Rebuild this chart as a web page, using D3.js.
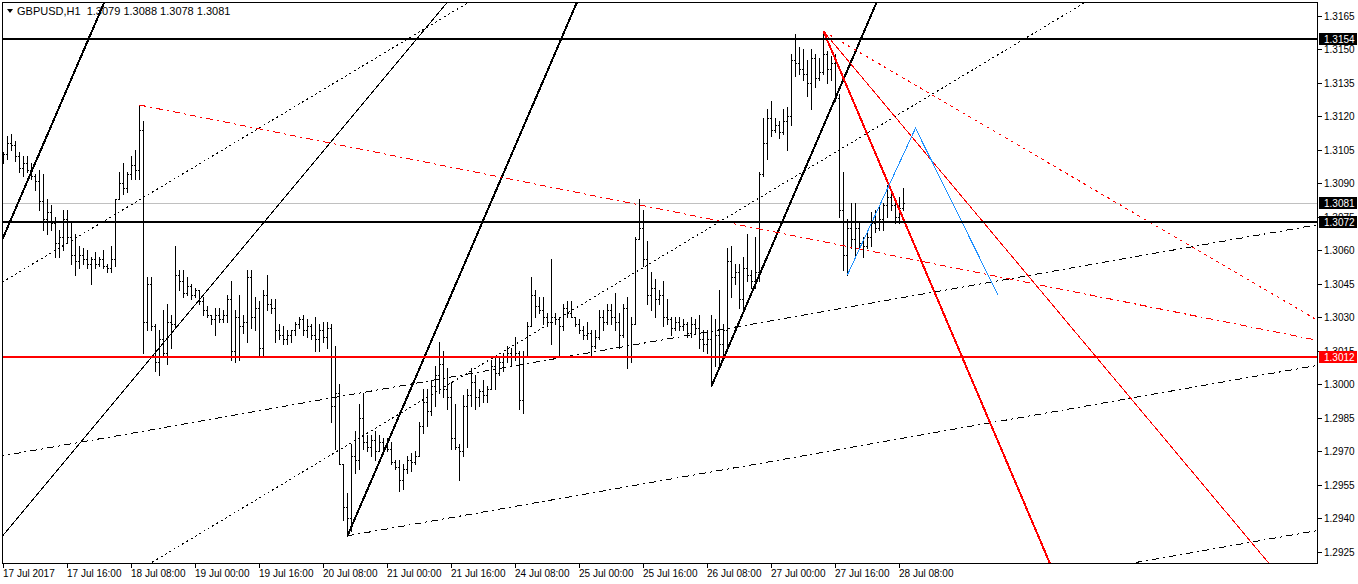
<!DOCTYPE html>
<html>
<head>
<meta charset="utf-8">
<script src="https://cdn.jsdelivr.net/npm/d3@7/dist/d3.min.js"></script>
<style>
  body { margin: 0; background: #fff; }
  svg { display: block; font-family: "Liberation Sans", Arial, sans-serif; font-size: 10px; }
</style>
</head>
<body>
<svg id="chart" width="1358" height="584"></svg>
<script>
var symbol = "GBPUSD,H1";

// hourly bars, 17 Jul 2017 00:00 .. 28 Jul 2017 09:00
var barOpen = [
  1.3101,1.3103,1.3108,1.3107,1.3102,1.3097,1.3099,1.3096,1.3093,1.3091,1.3082,1.3074,1.3077,1.3072,1.3063,1.3066,
  1.3074,1.3066,1.3058,1.3055,1.3058,1.3056,1.3054,1.3056,1.3054,1.3056,1.3053,1.3052,1.3056,1.3083,1.3090,1.3088,
  1.3094,1.3098,1.3096,1.3114,1.3028,1.3045,1.3026,1.3010,1.3020,1.3014,1.3028,1.3027,1.3049,1.3046,1.3041,1.3044,
  1.3040,1.3042,1.3037,1.3033,1.3031,1.3029,1.3031,1.3029,1.3031,1.3038,1.3015,1.3030,1.3026,1.3028,1.3048,1.3030,
  1.3034,1.3016,1.3040,1.3036,1.3034,1.3024,1.3022,1.3020,1.3022,1.3024,1.3027,1.3029,1.3024,1.3026,1.3022,1.3020,
  1.3024,1.3021,1.3025,1.2990,1.2996,1.2964,1.2945,1.2940,1.2968,1.2966,1.2985,1.2974,1.2972,1.2975,1.2970,1.2974,
  1.2972,1.2971,1.2965,1.2963,1.2957,1.2962,1.2966,1.2965,1.2968,1.2981,1.2992,1.2988,1.2999,1.3004,1.3009,1.2998,
  1.2994,1.2976,1.2972,1.2970,1.2990,1.2995,1.3001,1.2994,1.2997,1.2995,1.2998,1.3008,1.3005,1.3010,1.3012,1.3014,
  1.3012,1.3014,1.2993,1.3012,1.3026,1.3040,1.3035,1.3033,1.3030,1.3028,1.3030,1.3029,1.3026,1.3034,1.3032,1.3030,
  1.3027,1.3024,1.3022,1.3023,1.3017,1.3021,1.3030,1.3028,1.3033,1.3030,1.3028,1.3022,1.3034,1.3012,1.3027,1.3065,
  1.3070,1.3056,1.3040,1.3043,1.3038,1.3040,1.3030,1.3029,1.3025,1.3028,1.3026,1.3027,1.3023,1.3027,1.3025,1.3020,
  1.3018,1.3020,1.3012,1.3022,1.3018,1.3024,1.3055,1.3048,1.3050,1.3038,1.3052,1.3049,1.3046,1.3050,1.3094,1.3108,
  1.3119,1.3114,1.3116,1.3113,1.3118,1.3120,1.3145,1.3144,1.3141,1.3139,1.3135,1.3146,1.3137,1.3140,1.3148,1.3141,
  1.3144,1.3128,1.3078,1.3058,1.3070,1.3065,1.3070,1.3063,1.3062,1.3066,1.3072,1.3070,1.3074,1.3080,1.3084,1.3080,
  1.3075,1.3079
];
var barHigh = [
  1.3104,1.3111,1.3112,1.3109,1.3104,1.3102,1.3102,1.3099,1.3094,1.3096,1.3094,1.3083,1.3080,1.3075,1.3069,1.3078,
  1.3078,1.3072,1.3067,1.3062,1.3061,1.3060,1.3057,1.3059,1.3057,1.3060,1.3054,1.3062,1.3083,1.3095,1.3099,1.3095,
  1.3102,1.3105,1.3125,1.3118,1.3048,1.3048,1.3027,1.3024,1.3033,1.3036,1.3031,1.3062,1.3051,1.3051,1.3048,1.3045,
  1.3043,1.3042,1.3039,1.3035,1.3031,1.3034,1.3034,1.3033,1.3040,1.3046,1.3033,1.3040,1.3031,1.3051,1.3051,1.3039,
  1.3037,1.3042,1.3049,1.3038,1.3038,1.3027,1.3026,1.3024,1.3024,1.3028,1.3030,1.3031,1.3029,1.3027,1.3030,1.3027,
  1.3028,1.3028,1.3027,1.3017,1.3000,1.2964,1.2951,1.2973,1.2979,1.2991,1.2996,1.2977,1.2977,1.2979,1.2977,1.2976,
  1.2976,1.2974,1.2966,1.2966,1.2964,1.2968,1.2969,1.2970,1.2983,1.2998,1.2998,1.3002,1.3008,1.3019,1.3015,1.3007,
  1.3001,1.2991,1.2973,1.2995,1.2998,1.3007,1.3004,1.2998,1.3002,1.2999,1.3011,1.3012,1.3012,1.3014,1.3017,1.3016,
  1.3021,1.3015,1.3015,1.3028,1.3048,1.3042,1.3039,1.3039,1.3032,1.3056,1.3032,1.3030,1.3036,1.3037,1.3037,1.3030,
  1.3029,1.3026,1.3028,1.3024,1.3024,1.3033,1.3033,1.3036,1.3036,1.3041,1.3032,1.3036,1.3039,1.3030,1.3066,1.3083,
  1.3078,1.3064,1.3050,1.3047,1.3042,1.3046,1.3038,1.3030,1.3030,1.3030,1.3029,1.3028,1.3030,1.3029,1.3031,1.3024,
  1.3024,1.3031,1.3029,1.3042,1.3027,1.3061,1.3062,1.3054,1.3054,1.3057,1.3067,1.3051,1.3066,1.3095,1.3119,1.3123,
  1.3127,1.3119,1.3118,1.3123,1.3124,1.3148,1.3157,1.3151,1.3150,1.3145,1.3150,1.3148,1.3146,1.3158,1.3149,1.3147,
  1.3148,1.3130,1.3095,1.3074,1.3081,1.3081,1.3072,1.3066,1.3068,1.3077,1.3078,1.3080,1.3081,1.3089,1.3086,1.3082,
  1.3084,1.3088
];
var barLow = [
  1.3099,1.3101,1.3105,1.3100,1.3095,1.3093,1.3095,1.3092,1.3087,1.3078,1.3069,1.3067,1.3069,1.3057,1.3057,1.3060,
  1.3063,1.3054,1.3049,1.3052,1.3054,1.3052,1.3045,1.3052,1.3053,1.3052,1.3050,1.3050,1.3053,1.3083,1.3085,1.3086,
  1.3092,1.3092,1.3092,1.3014,1.3024,1.3024,1.3006,1.3004,1.3012,1.3009,1.3016,1.3025,1.3042,1.3039,1.3040,1.3038,
  1.3039,1.3036,1.3031,1.3030,1.3027,1.3022,1.3028,1.3028,1.3028,1.3011,1.3010,1.3011,1.3023,1.3019,1.3025,1.3024,
  1.3012,1.3012,1.3033,1.3032,1.3019,1.3020,1.3018,1.3018,1.3019,1.3022,1.3025,1.3022,1.3021,1.3020,1.3015,1.3015,
  1.3019,1.3016,1.2983,1.2971,1.2964,1.2939,1.2932,1.2934,1.2960,1.2962,1.2971,1.2970,1.2968,1.2966,1.2970,1.2969,
  1.2970,1.2964,1.2962,1.2952,1.2953,1.2960,1.2961,1.2964,1.2968,1.2978,1.2981,1.2986,1.2990,1.2996,1.2994,1.2989,
  1.2971,1.2971,1.2957,1.2968,1.2972,1.2990,1.2989,1.2990,1.2992,1.2992,1.2998,1.2998,1.3004,1.3006,1.3010,1.3008,
  1.3011,1.2989,1.2987,1.3012,1.3026,1.3030,1.3032,1.3027,1.3026,1.3018,1.3027,1.3012,1.3024,1.3030,1.3030,1.3026,
  1.3023,1.3020,1.3020,1.3013,1.3016,1.3020,1.3024,1.3027,1.3027,1.3024,1.3016,1.3021,1.3007,1.3010,1.3027,1.3065,
  1.3053,1.3036,1.3033,1.3030,1.3036,1.3026,1.3027,1.3022,1.3024,1.3024,1.3024,1.3021,1.3021,1.3023,1.3016,1.3015,
  1.3014,1.2999,1.3008,1.3009,1.3012,1.3016,1.3039,1.3045,1.3034,1.3033,1.3046,1.3043,1.3043,1.3046,1.3093,1.3101,
  1.3111,1.3113,1.3110,1.3112,1.3105,1.3116,1.3138,1.3139,1.3136,1.3129,1.3123,1.3133,1.3136,1.3139,1.3135,1.3136,
  1.3127,1.3075,1.3051,1.3049,1.3061,1.3058,1.3061,1.3057,1.3061,1.3062,1.3068,1.3069,1.3069,1.3075,1.3078,1.3072,
  1.3072,1.3078
];
var barClose = [
  1.3103,1.3108,1.3107,1.3102,1.3097,1.3099,1.3096,1.3093,1.3091,1.3082,1.3074,1.3077,1.3072,1.3063,1.3066,1.3074,
  1.3066,1.3058,1.3055,1.3058,1.3056,1.3054,1.3056,1.3054,1.3056,1.3053,1.3052,1.3056,1.3083,1.3090,1.3088,1.3094,
  1.3098,1.3096,1.3114,1.3028,1.3045,1.3026,1.3010,1.3020,1.3014,1.3028,1.3027,1.3049,1.3046,1.3041,1.3044,1.3040,
  1.3042,1.3037,1.3033,1.3031,1.3029,1.3031,1.3029,1.3031,1.3038,1.3015,1.3030,1.3026,1.3028,1.3048,1.3030,1.3034,
  1.3016,1.3040,1.3036,1.3034,1.3024,1.3022,1.3020,1.3022,1.3024,1.3027,1.3029,1.3024,1.3026,1.3022,1.3020,1.3024,
  1.3021,1.3025,1.2990,1.2996,1.2964,1.2945,1.2940,1.2968,1.2966,1.2985,1.2974,1.2972,1.2975,1.2970,1.2974,1.2972,
  1.2971,1.2965,1.2963,1.2957,1.2962,1.2966,1.2965,1.2968,1.2981,1.2992,1.2988,1.2999,1.3004,1.3009,1.2998,1.2994,
  1.2976,1.2972,1.2970,1.2990,1.2995,1.3001,1.2994,1.2997,1.2995,1.2998,1.3008,1.3005,1.3010,1.3012,1.3014,1.3012,
  1.3014,1.2993,1.3012,1.3026,1.3040,1.3035,1.3033,1.3030,1.3028,1.3030,1.3029,1.3026,1.3034,1.3032,1.3030,1.3027,
  1.3024,1.3022,1.3023,1.3017,1.3021,1.3030,1.3028,1.3033,1.3030,1.3028,1.3022,1.3034,1.3012,1.3027,1.3065,1.3070,
  1.3056,1.3040,1.3043,1.3038,1.3040,1.3030,1.3029,1.3025,1.3028,1.3026,1.3027,1.3023,1.3027,1.3025,1.3020,1.3018,
  1.3020,1.3012,1.3022,1.3018,1.3024,1.3055,1.3048,1.3050,1.3038,1.3052,1.3049,1.3046,1.3050,1.3094,1.3108,1.3119,
  1.3114,1.3116,1.3113,1.3118,1.3120,1.3145,1.3144,1.3141,1.3139,1.3135,1.3146,1.3137,1.3140,1.3148,1.3141,1.3144,
  1.3128,1.3078,1.3058,1.3070,1.3065,1.3070,1.3063,1.3062,1.3066,1.3072,1.3070,1.3074,1.3080,1.3084,1.3080,1.3075,
  1.3079,1.3081
];

// time axis: one label every 16 bars
var timeLabels = ["17 Jul 2017", "17 Jul 16:00", "18 Jul 08:00", "19 Jul 00:00", "19 Jul 16:00",
  "20 Jul 08:00", "21 Jul 00:00", "21 Jul 16:00", "24 Jul 08:00", "25 Jul 00:00",
  "25 Jul 16:00", "26 Jul 08:00", "27 Jul 00:00", "27 Jul 16:00", "28 Jul 08:00"];
var timeLabelBars = [0, 16, 32, 48, 64, 80, 96, 112, 128, 144, 160, 176, 192, 208, 224];

var priceTicks = [1.3165, 1.3150, 1.3135, 1.3120, 1.3105, 1.3090, 1.3075, 1.3060, 1.3045,
  1.3030, 1.3015, 1.3000, 1.2985, 1.2970, 1.2955, 1.2940, 1.2925];

// horizontal lines
var blackLevels = [1.3154, 1.3072];
var redLevels = [1.3012];
var bidPrice = 1.3081;

// trend lines as [bar, price] pairs
var steepChannel = [[[0, 1.3066], [24, 1.3166]], [[86, 1.2932], [110, 1.3032]], [[177, 1.2999], [201, 1.3099]]];
var thinLine = [[30, 1.2997], [50, 1.3040]];
var dotLines = [[[0, 1.3046], [40, 1.3089]], [[170, 1.3063], [210, 1.3106]]];
var dashDotLines = [[[86, 1.2995], [186, 1.30265]], [[86, 1.2932], [186, 1.29635]], [[86, 1.2858], [186, 1.28895]]];
var redDashDot = [[34, 1.3125], [134, 1.30892]];
var peakFan = [[[205, 1.3158], [225, 1.30738]], [[205, 1.3158], [245, 1.30724]], [[205, 1.3158], [305, 1.30532]]];
var blueZigzag = [[211, 1.3049], [228, 1.31146], [248.6, 1.3040]];

var plot = {left: 3, top: 3, right: 1318, bottom: 563};
var n = barClose.length;

var svg = d3.select("#chart");

var x = d3.scaleLinear().domain([0, n - 1]).range([3.5, 3.5 + 4 * (n - 1)]);
var y = d3.scaleLinear().domain([1.2925, 1.3165]).range([551.5, 15.7]);
var yPix = function(p) { return Math.round(y(p)); };

svg.append("defs").append("clipPath").attr("id", "plotClip")
  .append("rect")
  .attr("x", plot.left).attr("y", plot.top)
  .attr("width", plot.right - plot.left).attr("height", plot.bottom - plot.top);

var g = svg.append("g").attr("clip-path", "url(#plotClip)").attr("shape-rendering", "crispEdges");

// bid line
g.append("line")
  .attr("x1", plot.left).attr("x2", plot.right)
  .attr("y1", yPix(bidPrice) + 0.5).attr("y2", yPix(bidPrice) + 0.5)
  .attr("stroke", "#c0c0c0").attr("stroke-width", 1);

// OHLC bars
var bars = g.append("g").attr("fill", "#000");
d3.range(n).forEach(function(i) {
  var cx = Math.floor(x(i));
  var top = yPix(barHigh[i]), bot = yPix(barLow[i]);
  bars.append("rect").attr("x", cx).attr("y", top).attr("width", 1).attr("height", bot - top + 1);
  bars.append("rect").attr("x", cx - 1).attr("y", yPix(barOpen[i])).attr("width", 1).attr("height", 1);
  bars.append("rect").attr("x", cx + 1).attr("y", yPix(barClose[i])).attr("width", 1).attr("height", 1);
});

// extend a line through two anchors across the chart, or from the first anchor when ray
function lineThrough(pts, ray) {
  var a = pts[0], b = pts[1];
  var slope = (b[1] - a[1]) / (b[0] - a[0]);
  var i0 = ray ? a[0] : -10, i1 = 340;
  return [[x(i0), y(a[1] + slope * (i0 - a[0]))], [x(i1), y(a[1] + slope * (i1 - a[0]))]];
}
var path = d3.line();
function drawLine(pts, ray, color, width, dash) {
  g.append("path")
    .attr("d", path(lineThrough(pts, ray)))
    .attr("fill", "none")
    .attr("stroke", color)
    .attr("stroke-width", width)
    .attr("stroke-dasharray", dash || null);
}

dotLines.forEach(function(d) { drawLine(d, false, "#000", 1, "2,3"); });
dashDotLines.forEach(function(d, k) { drawLine(d, k === 1, "#000", 1, "7,4,2,4"); });
drawLine(thinLine, false, "#000", 1);
steepChannel.forEach(function(d, k) { drawLine(d, k > 0, "#000", 2); });
drawLine(redDashDot, true, "#ff0000", 1, "7,4,2,4");
drawLine(peakFan[2], true, "#ff0000", 1, "3,4");
drawLine(peakFan[1], true, "#ff0000", 1);
drawLine(peakFan[0], true, "#ff0000", 2);

g.append("path")
  .attr("d", path(blueZigzag.map(function(d) { return [x(d[0]), y(d[1])]; })))
  .attr("fill", "none").attr("stroke", "#1e90ff").attr("stroke-width", 1);

blackLevels.forEach(function(p) {
  g.append("line").attr("x1", plot.left).attr("x2", plot.right)
    .attr("y1", yPix(p) - 1).attr("y2", yPix(p) - 1)
    .attr("stroke", "#000").attr("stroke-width", 2);
});
redLevels.forEach(function(p) {
  g.append("line").attr("x1", plot.left).attr("x2", plot.right)
    .attr("y1", yPix(p)).attr("y2", yPix(p))
    .attr("stroke", "#ff0000").attr("stroke-width", 2);
});

// frame
svg.append("rect")
  .attr("x", 2.5).attr("y", 2.5)
  .attr("width", plot.right - 3).attr("height", plot.bottom - 2.5)
  .attr("fill", "none").attr("stroke", "#000").attr("shape-rendering", "crispEdges");

// price axis
var pa = svg.append("g").attr("shape-rendering", "crispEdges");
priceTicks.forEach(function(p) {
  var py = yPix(p);
  pa.append("line").attr("x1", plot.right).attr("x2", plot.right + 4)
    .attr("y1", py + 0.5).attr("y2", py + 0.5).attr("stroke", "#000");
  pa.append("text").attr("x", plot.right + 6).attr("y", py + 3.5)
    .attr("fill", "#000").text(d3.format(".4f")(p));
});

// level tags on the price axis
function tag(p, bg, dy) {
  var py = yPix(p) + dy;
  pa.append("rect").attr("x", plot.right + 1).attr("y", py - 6)
    .attr("width", 38).attr("height", 12).attr("fill", bg);
  pa.append("text").attr("x", plot.right + 6).attr("y", py + 3.5)
    .attr("fill", "#fff").text(d3.format(".4f")(p));
}
tag(blackLevels[0], "#000", -1);
tag(bidPrice, "#000", 0);
tag(blackLevels[1], "#000", -1);
tag(redLevels[0], "#ff0000", 0);

// time axis
var ta = svg.append("g").attr("shape-rendering", "crispEdges");
timeLabelBars.forEach(function(b, k) {
  var tx = Math.floor(x(b)) + 0.5;
  ta.append("line").attr("x1", tx).attr("x2", tx)
    .attr("y1", plot.bottom).attr("y2", plot.bottom + 5).attr("stroke", "#000");
  ta.append("text").attr("x", tx - 0.5).attr("y", plot.bottom + 14)
    .attr("fill", "#000").text(timeLabels[k]);
});

// header
svg.append("path").attr("d", "M7,9 L13,9 L10,13 Z").attr("fill", "#000");
var last = n - 1;
svg.append("text").attr("x", 17).attr("y", 15).attr("fill", "#000")
  .style("font-size", "11px")
  .style("white-space", "pre")
  .text(symbol + "  " + [barOpen[last], barHigh[last], barLow[last], barClose[last]]
    .map(d3.format(".4f")).join(" "));
</script>
</body>
</html>
